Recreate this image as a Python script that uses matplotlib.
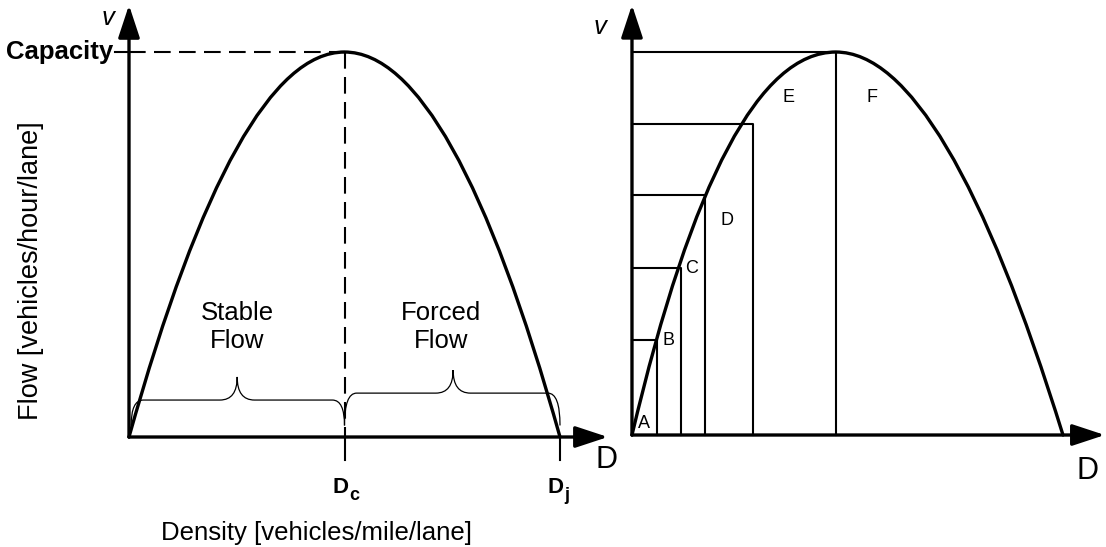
import matplotlib
matplotlib.use("Agg")
import matplotlib.pyplot as plt
from matplotlib.path import Path
from matplotlib.patches import PathPatch

plt.rcParams['font.family'] = ['Liberation Sans', 'DejaVu Sans']

# left panel: greenshields flow-density curve (normalised units)
left_density = [0.0, 0.5, 1.0]      # origin, Dc, Dj
left_flow = [0.0, 1.0, 0.0]         # zero, capacity, zero
left_ctrl = [0.25, 0.75]            # bezier control density for rising / falling half
regime_labels = ["Stable\nFlow", "Forced\nFlow"]
regime_label_x = [0.251, 0.724]
brace_spans = [(0.005, 0.251, 0.5), (0.5, 0.752, 1.0)]   # start, tip, end
brace_base = [0.096, 0.114]
density_marks = ["c", "j"]

# right panel: level of service bands
right_density = [0.0, 0.473, 1.0]
right_flow = [0.0, 1.0, 0.0]
right_ctrl = [0.209, 0.725]
band_density = [0.058, 0.114, 0.169, 0.281, 0.473]
band_flow = [0.248, 0.436, 0.627, 0.812, 1.0]
los_labels = ["A", "B", "C", "D", "E", "F"]
los_x = [0.028, 0.084, 0.139, 0.220, 0.362, 0.557]
los_y = [0.029, 0.248, 0.436, 0.561, 0.880, 0.880]


def draw_curve(ax, dens, flow, ctrl, lw=2.4):
    verts = [(dens[0], flow[0]), (ctrl[0], flow[1]), (dens[1], flow[1]),
             (ctrl[1], flow[1]), (dens[2], flow[2])]
    codes = [Path.MOVETO, Path.CURVE3, Path.CURVE3, Path.CURVE3, Path.CURVE3]
    ax.add_patch(PathPatch(Path(verts, codes), fill=False, lw=lw, color="black",
                           capstyle="round", joinstyle="round"))


def draw_axes_arrows(ax, xtip, ytip):
    style = "-|>,head_length=1.0,head_width=0.33"
    for tip in [(xtip, 0), (0, ytip)]:
        ax.annotate("", xy=tip, xytext=(0, 0), annotation_clip=False,
                    arrowprops=dict(arrowstyle=style, lw=2.4, color="black",
                                    mutation_scale=20, shrinkA=0, shrinkB=0))


def draw_brace(ax, x0, xm, x1, y_base, y_end=0.03, y_tip_add=0.06, rx_end=0.028, rx_tip=0.04):
    y_tip = y_base + y_tip_add
    verts = [(x0, y_end), (x0, y_base), (x0 + rx_end, y_base),
             (xm - rx_tip, y_base), (xm, y_base), (xm, y_tip),
             (xm, y_base), (xm + rx_tip, y_base),
             (x1 - rx_end, y_base), (x1, y_base), (x1, y_end)]
    codes = [Path.MOVETO, Path.CURVE3, Path.CURVE3,
             Path.LINETO, Path.CURVE3, Path.CURVE3,
             Path.CURVE3, Path.CURVE3,
             Path.LINETO, Path.CURVE3, Path.CURVE3]
    ax.add_patch(PathPatch(Path(verts, codes), fill=False, lw=0.9, color="black"))


fig = plt.figure(figsize=(11.06, 5.47), dpi=100)
ax1 = fig.add_axes([0, 0, 620 / 1106, 1])
ax2 = fig.add_axes([620 / 1106, 0, 486 / 1106, 1])
ax1.set_xlim(-0.2993, 1.1392)
ax1.set_ylim(-0.2857, 1.1351)
ax2.set_xlim(-0.0278, 1.0998)
ax2.set_ylim(-0.2924, 1.1358)
for ax in (ax1, ax2):
    ax.axis("off")

# ---- left panel
dc, dj = left_density[1], left_density[2]
cap = left_flow[1]
draw_curve(ax1, left_density, left_flow, left_ctrl)
draw_axes_arrows(ax1, 1.111, 1.122)
ax1.plot([0, dc], [cap, cap], color="black", lw=1.5, ls=(0, (8, 4)))
ax1.plot([dc, dc], [cap, 0], color="black", lw=1.5, ls=(0, (8, 4)))
ax1.plot([-0.033, 0], [cap, cap], color="black", lw=1.5)
for d in (dc, dj):
    ax1.plot([d, d], [0, -0.06], color="black", lw=1.5)

for (x0, xm, x1), yb in zip(brace_spans, brace_base):
    draw_brace(ax1, x0, xm, x1, yb)
for lab, x in zip(regime_labels, regime_label_x):
    ax1.text(x, 0.286, lab, ha="center", va="center", fontsize=18.5, linespacing=1.25)

ax1.text(-0.036, cap, "Capacity", ha="right", va="center", fontsize=18.5, fontweight="bold")
ax1.text(-0.049, 1.088, "v", ha="center", va="center", fontsize=18.5, fontstyle="italic")
ax1.text(1.109, -0.06, "D", ha="center", va="center", fontsize=22)

# D_c and D_j marks under the density axis
for d, sub in zip((dc, dj), density_marks):
    ax1.text(d + 0.009, -0.145, "D", ha="right", va="baseline", fontsize=16, fontweight="bold")
    ax1.text(d + 0.011, -0.164, sub, ha="left", va="baseline", fontsize=13, fontweight="bold")

ax1.text(0.436, -0.268, "Density [vehicles/mile/lane]", ha="center", va="baseline", fontsize=18.5)
ax1.text(-0.227, 0.431, "Flow [vehicles/hour/lane]", ha="center", va="center",
         rotation=90, fontsize=19.5)

# ---- right panel
draw_curve(ax2, right_density, right_flow, right_ctrl)
draw_axes_arrows(ax2, 1.097, 1.123)
for d, v in zip(band_density, band_flow):
    ax2.plot([0, d, d], [v, v, 0], color="black", lw=1.5)
for lab, x, y in zip(los_labels, los_x, los_y):
    ax2.text(x, y, lab, ha="center", va="center", fontsize=13)
ax2.text(-0.074, 1.065, "v", ha="center", va="center", fontsize=18.5, fontstyle="italic")
ax2.text(1.056, -0.094, "D", ha="center", va="center", fontsize=22)

plt.savefig("out.png", dpi=100)
